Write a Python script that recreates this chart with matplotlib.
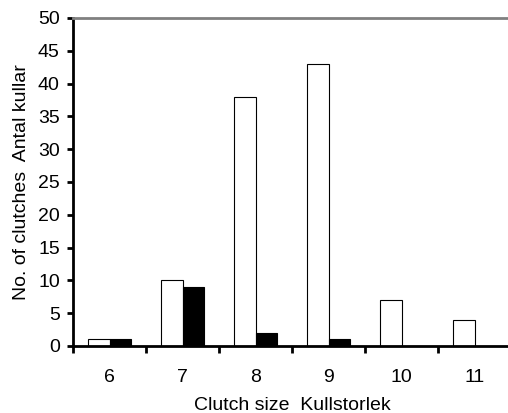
import numpy as np
import matplotlib.pyplot as plt

plt.rcParams['font.family'] = ['Liberation Sans', 'DejaVu Sans']

clutch_sizes = ['6', '7', '8', '9', '10', '11']
white_counts = [1, 10, 38, 43, 7, 4]
black_counts = [1, 9, 2, 1, 0, 0]

fig = plt.figure(figsize=(5.08, 4.13), dpi=100)
ax = fig.add_axes([73 / 508, 67 / 413, 438 / 508, 328 / 413])

x = np.arange(len(clutch_sizes))
w = 0.29
ax.bar(x - w / 2, white_counts, w, color='white', edgecolor='black', linewidth=0.8)
ax.bar(x + w / 2, black_counts, w, color='black', edgecolor='black', linewidth=0.8)

ax.set_xlim(-0.5, len(clutch_sizes) - 0.5)
ax.set_ylim(0, 50)
ax.set_yticks(range(0, 51, 5))

# ticks sit on the category boundaries, labels in the middle
ax.set_xticks(np.arange(-0.5, len(clutch_sizes) - 0.4, 1))
ax.set_xticklabels([])
ax.set_xticks(x, minor=True)
ax.set_xticklabels(clutch_sizes, minor=True)
ax.tick_params(axis='x', which='minor', length=0, pad=16.5, labelsize=14)
ax.tick_params(axis='x', which='major', length=5, width=2, direction='out')
ax.tick_params(axis='y', length=4.5, width=2, direction='out', labelsize=14, pad=5)

for s in ['left', 'bottom']:
    ax.spines[s].set_linewidth(2)
ax.spines['top'].set_color('#808080')
ax.spines['top'].set_linewidth(2)
ax.spines['right'].set_visible(False)

ax.set_xlabel('Clutch size  Kullstorlek', fontsize=14, labelpad=8)
ax.set_ylabel('No. of clutches  Antal kullar', fontsize=14, labelpad=6)

fig.savefig('out.png', dpi=100)
